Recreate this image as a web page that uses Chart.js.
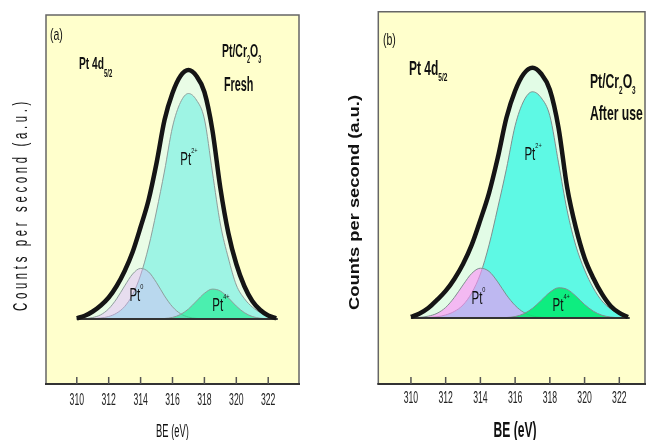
<!DOCTYPE html>
<html>
<head>
<meta charset="utf-8">
<style>
  html, body { margin: 0; padding: 0; background: #fff; }
  #wrap { position: relative; width: 650px; height: 440px; }
  .panel { position: absolute; top: 0; width: 325px; height: 440px; }
  #pa { left: 0; }
  #pb { left: 325px; }
</style>
<script src="https://cdn.jsdelivr.net/npm/chart.js"></script>
</head>
<body>
<div id="wrap">
  <div class="panel" id="pa"><canvas id="chartA" width="325" height="440"></canvas></div>
  <div class="panel" id="pb"><canvas id="chartB" width="325" height="440"></canvas></div>
</div>
<script>
// binding energy grid (eV) and tick labels
const be = [310, 310.5, 311, 311.5, 312, 312.5, 313, 313.5, 314, 314.5, 315, 315.5, 316,
            316.5, 317, 317.5, 318, 318.5, 319, 319.5, 320, 320.5, 321, 321.5, 322, 322.5];
const beTicks = [310, 312, 314, 316, 318, 320, 322];
const baseEnds = [310, 322.6];

// (a) fresh - counts above background (a.u.)
const envA = [0.7, 3.2, 7.5, 13.5, 21.5, 33, 48, 67, 92, 119, 156, 199, 226,
              243, 249, 243, 227, 189, 131, 86, 55, 33, 18, 9, 3.5, 0.7];
const pt2A = [0, 0.1, 0.4, 1.0, 2.5, 5.9, 12.5, 24.4, 43.9, 72, 108, 148, 192,
              216.6, 225.5, 219, 200, 147, 95, 61, 34, 20.5, 12, 6.5, 3, 0.8];
const pt0A = [0.1, 0.4, 1.5, 4.2, 10.2, 20.2, 33.1, 45.0, 50.6, 47.1, 36.3, 23.1, 12.2,
              5.3, 1.9, 0.6, 0.2, 0, 0, 0, 0, 0, 0, 0, 0, 0];
const pt4A = [0, 0, 0, 0, 0, 0, 0, 0, 0, 0, 0.1, 0.5, 1.6,
              4.5, 10.0, 17.9, 25.7, 29.9, 28.0, 21.2, 12.9, 6.4, 2.5, 0.8, 0.2, 0];

// (b) after use
const envB = [1, 4.5, 10, 18, 27, 39, 54, 73, 98, 125, 160, 200, 227,
              244, 250, 244, 228, 190, 130, 90, 60, 40, 24, 12, 5, 1];
const pt2B = [0, 0.2, 0.5, 1.2, 3, 6.5, 13, 25, 44, 73, 110, 149, 192,
              217, 226, 220, 202, 155, 107, 72, 48, 30, 17, 9, 4, 1];
const pt0B = [0.2, 0.6, 1.8, 4.6, 10.5, 20.5, 33, 44.5, 49.7, 46.5, 36, 23, 12.5,
              5.5, 2, 0.7, 0.2, 0, 0, 0, 0, 0, 0, 0, 0, 0];
const pt4B = [0, 0, 0, 0, 0, 0, 0, 0, 0, 0, 0.1, 0.4, 1.4,
              4.2, 9.6, 17.5, 25.6, 30.1, 28.5, 21.8, 13.4, 6.8, 2.7, 0.9, 0.2, 0];

const FONT = '"Liberation Sans", Arial, sans-serif';
const W = 325, H = 440;

function pts(arr) {
  return arr.map((v, i) => ({ x: be[i], y: v }));
}

// draw text squeezed horizontally (the figure's lettering is condensed)
function say(ctx, s, x, y, o) {
  ctx.save();
  ctx.translate(x, y);
  if (o.rot) ctx.rotate(o.rot);
  ctx.font = (o.bold ? 'bold ' : '') + o.size + 'px ' + FONT;
  if (o.spacing) ctx.letterSpacing = o.spacing + 'px';
  let sx = o.sx || 0.6;
  if (o.fit) sx = o.fit / ctx.measureText(s).width;
  ctx.scale(sx, o.sy || 1);
  ctx.fillStyle = o.color || '#111';
  ctx.textAlign = o.align || 'left';
  ctx.textBaseline = o.base || 'alphabetic';
  ctx.fillText(s, 0, 0);
  const w = ctx.measureText(s).width * sx;
  ctx.restore();
  return w;
}

function rich(ctx, parts, x, y, o) {
  let cx = x;
  for (const p of parts) {
    cx += say(ctx, p.t, cx, y + (p.dy || 0), Object.assign({}, o, { size: p.size || o.size }));
  }
}

function ptLabel(chart, ex, h, sup, size, sx) {
  const ctx = chart.ctx;
  const px = chart.scales.x.getPixelForValue(ex);
  const py = chart.scales.y.getPixelForValue(h);
  ctx.save();
  ctx.font = size + 'px ' + FONT;
  const w = ctx.measureText('Pt').width * sx;
  ctx.restore();
  const base = py + 0.36 * size;
  say(ctx, 'Pt', px - w / 2, base, { size: size, sx: sx });
  say(ctx, sup, px + w / 2, base - 0.68 * size, { size: 8, sx: 0.7 });
}

function frame(chart, tickY) {
  const a = chart.chartArea, ctx = chart.ctx, xs = chart.scales.x;
  ctx.save();
  ctx.strokeStyle = '#666';
  ctx.lineWidth = 1.5;
  ctx.beginPath();
  ctx.moveTo(a.left, a.bottom);
  ctx.lineTo(a.left, a.top);
  ctx.lineTo(a.right, a.top);
  ctx.lineTo(a.right, a.bottom);
  ctx.stroke();
  ctx.strokeStyle = '#333';
  ctx.lineWidth = 2;
  ctx.beginPath();
  ctx.moveTo(a.left - 1, a.bottom);
  ctx.lineTo(a.right + 1, a.bottom);
  ctx.stroke();
  // inward tick marks
  ctx.strokeStyle = '#555';
  ctx.lineWidth = 1.5;
  xs.ticks.forEach(t => {
    const px = xs.getPixelForValue(t.value);
    ctx.beginPath();
    ctx.moveTo(px, a.bottom);
    ctx.lineTo(px, a.bottom - 7);
    ctx.stroke();
    say(ctx, String(t.value), px, tickY, { size: 16, sx: 0.54, align: 'center', base: 'middle', color: '#222' });
  });
  ctx.restore();
}

function panel(id, d) {
  return new Chart(document.getElementById(id), {
    type: 'line',
    data: {
      datasets: [
        { label: 'baseline', data: [{ x: baseEnds[0], y: 0 }, { x: baseEnds[1], y: 0 }],
          borderColor: '#333', borderWidth: 2, order: 1 },
        { label: 'envelope', data: pts(d.env), borderColor: '#151515', borderWidth: 4.5, order: 0 },
        { label: 'Pt4+', data: pts(d.pt4), fill: 'origin', backgroundColor: d.c4,
          borderColor: d.edge, borderWidth: 1, order: 2 },
        { label: 'Pt0', data: pts(d.pt0), fill: 'origin', backgroundColor: d.c0,
          borderColor: d.edge, borderWidth: 1, order: 3 },
        { label: 'Pt2+', data: pts(d.pt2), fill: 'origin', backgroundColor: d.c2,
          borderColor: d.edge, borderWidth: 1, order: 4 },
        { label: 'sum', data: pts(d.env), fill: 'origin', backgroundColor: d.cEnv,
          borderColor: 'rgba(0,0,0,0)', borderWidth: 0, order: 5 }
      ]
    },
    options: {
      responsive: false,
      animation: false,
      layout: { padding: { left: d.area[0], top: d.area[1], right: W - d.area[2], bottom: 0 } },
      elements: { point: { radius: 0 }, line: { cubicInterpolationMode: 'monotone' } },
      plugins: { legend: { display: false }, tooltip: { enabled: false } },
      scales: {
        x: {
          type: 'linear', min: d.xr[0], max: d.xr[1],
          grid: { display: false }, border: { display: false }, ticks: { display: false },
          afterBuildTicks: s => { s.ticks = beTicks.map(v => ({ value: v })); },
          afterFit: s => { s.height = H - d.area[3]; }
        },
        y: { display: false, min: d.yr[0], max: d.yr[1] }
      }
    },
    plugins: [{
      id: 'decor',
      beforeDraw(chart) {
        const a = chart.chartArea, ctx = chart.ctx;
        ctx.save();
        ctx.fillStyle = '#ffffcc';
        ctx.fillRect(a.left, a.top, a.right - a.left, a.bottom - a.top);
        ctx.restore();
      },
      afterDraw(chart) {
        frame(chart, d.tickY);
        d.text(chart);
      }
    }]
  });
}

panel('chartA', {
  env: envA, pt2: pt2A, pt0: pt0A, pt4: pt4A,
  area: [46, 15, 299, 384], xr: [308.07, 323.93], yr: [-65, 304], tickY: 401,
  cEnv: '#e9fce6', c2: '#9ef4e4', c0: 'rgba(230,170,255,0.38)', c4: 'rgba(20,235,140,0.6)', edge: '#8e9e9c',
  text(chart) {
    const ctx = chart.ctx;
    say(ctx, '(a)', 50, 40, { size: 17, sx: 0.62 });
    rich(ctx, [{ t: 'Pt 4d' }, { t: '5/2', size: 10, dy: 8 }], 79, 69, { size: 17, bold: true, sx: 0.6 });
    rich(ctx, [{ t: 'Pt/Cr' }, { t: '2', size: 10, dy: 6 }, { t: 'O' }, { t: '3', size: 10, dy: 6 }],
         222, 57, { size: 19, bold: true, sx: 0.55 });
    say(ctx, 'Fresh', 224, 91, { size: 20, bold: true, sx: 0.54 });
    ptLabel(chart, 316.83, 160, '2+', 18, 0.64);
    ptLabel(chart, 313.64, 24, '0', 18, 0.64);
    ptLabel(chart, 318.84, 14, '4+', 18, 0.64);
    say(ctx, 'BE (eV)', 172.5, 437, { size: 18, sx: 0.52, align: 'center', color: '#111' });
    say(ctx, 'Counts per second (a.u.)', 22, 204.5,
        { size: 22, rot: -Math.PI / 2, spacing: 7, fit: 213, sy: 0.88, align: 'center', base: 'middle', color: '#111' });
  }
});

panel('chartB', {
  env: envB, pt2: pt2B, pt0: pt0B, pt4: pt4B,
  area: [53.3, 11.7, 320, 384], xr: [308.12, 323.48], yr: [-66, 306], tickY: 399,
  cEnv: '#e2fce6', c2: '#5ef9e4', c0: 'rgba(255,140,250,0.6)', c4: 'rgba(0,235,110,0.85)', edge: '#7f8f8f',
  text(chart) {
    const ctx = chart.ctx;
    say(ctx, '(b)', 58, 45, { size: 17, sx: 0.62 });
    rich(ctx, [{ t: 'Pt 4d' }, { t: '5/2', size: 11, dy: 6 }], 84, 75, { size: 20, bold: true, sx: 0.6 });
    rich(ctx, [{ t: 'Pt/Cr' }, { t: '2', size: 11, dy: 6 }, { t: 'O' }, { t: '3', size: 11, dy: 6 }],
         265, 88, { size: 21, bold: true, sx: 0.58 });
    say(ctx, 'After use', 265, 120, { size: 21, bold: true, sx: 0.58 });
    ptLabel(chart, 316.85, 164, '2+', 18, 0.64);
    ptLabel(chart, 313.8, 20, '0', 18, 0.64);
    ptLabel(chart, 318.47, 13, '4+', 18, 0.64);
    say(ctx, 'BE (eV)', 190, 437, { size: 22, bold: true, sx: 0.55, align: 'center', color: '#111' });
    say(ctx, 'Counts per second (a.u.)', 30, 202.5,
        { size: 18, bold: true, rot: -Math.PI / 2, fit: 215, sy: 0.8, align: 'center', base: 'middle', color: '#111' });
  }
});
</script>
</body>
</html>
